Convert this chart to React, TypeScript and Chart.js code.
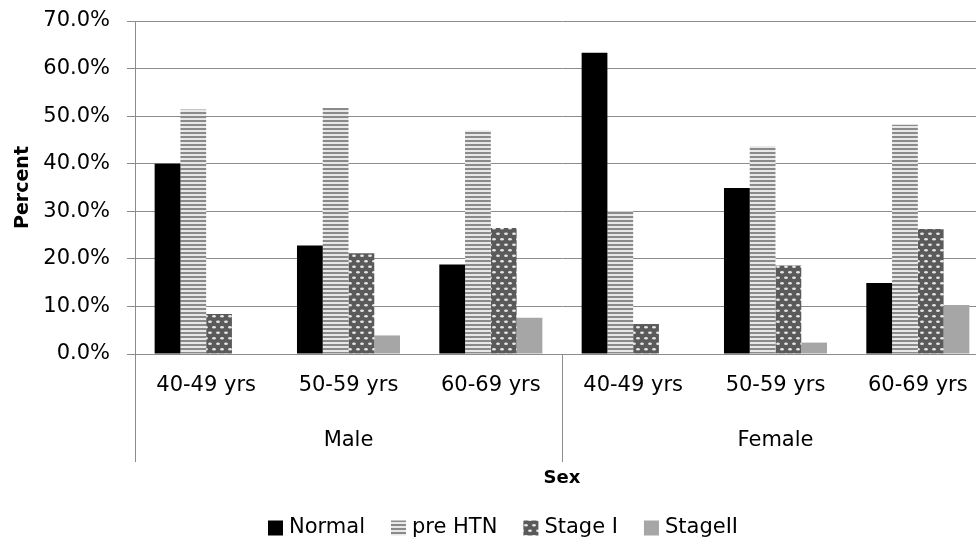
import React, { useEffect, useRef } from 'react';
import { Chart, registerables } from 'chart.js';

Chart.register(...registerables);

// ---- data ----
const groups = ['Male', 'Female'];
const categories = ['40-49 yrs', '50-59 yrs', '60-69 yrs', '40-49 yrs', '50-59 yrs', '60-69 yrs'];
const seriesNames = ['Normal', 'pre HTN', 'Stage I', 'StageII'];
const normal = [40.0, 22.8, 18.8, 63.3, 34.9, 14.9];
const preHTN = [51.4, 51.7, 47.0, 30.0, 43.7, 48.2];
const stageI = [8.4, 21.2, 26.5, 6.3, 18.6, 26.3];
const stageII = [0, 3.9, 7.6, 0, 2.4, 10.3];
const yMin = 0;
const yMax = 70;
const yStep = 10;
const xTitle = 'Sex';
const yTitle = 'Percent';

const FONT = 'DejaVu Sans';
const GRID = '#8c8c8c';

function stripePattern(): CanvasPattern | string {
  const c = document.createElement('canvas');
  c.width = 4;
  c.height = 4;
  const g = c.getContext('2d');
  if (!g) return '#aaa';
  g.fillStyle = '#e8e8e8';
  g.fillRect(0, 0, 4, 4);
  g.fillStyle = '#8a8a8a';
  g.fillRect(0, 0, 4, 2);
  return g.createPattern(c, 'repeat') || '#aaa';
}

function dotPattern(): CanvasPattern | string {
  const c = document.createElement('canvas');
  c.width = 8;
  c.height = 11;
  const g = c.getContext('2d');
  if (!g) return '#666';
  g.fillStyle = '#5a5a5a';
  g.fillRect(0, 0, 8, 11);
  g.fillStyle = '#e6e6e6';
  g.beginPath();
  g.ellipse(2, 2.75, 1.9, 1.3, 0, 0, Math.PI * 2);
  g.fill();
  g.beginPath();
  g.ellipse(6, 8.25, 1.9, 1.3, 0, 0, Math.PI * 2);
  g.fill();
  return g.createPattern(c, 'repeat') || '#666';
}

export default function App() {
  const ref = useRef<HTMLCanvasElement | null>(null);

  useEffect(() => {
    const canvas = ref.current;
    if (!canvas) return;
    const fills = ['#000000', stripePattern(), dotPattern(), '#a6a6a6'];
    const values = [normal, preHTN, stageI, stageII];

    const axisPlugin = {
      id: 'multiLevelAxis',
      afterDraw(chart: any) {
        const ctx = chart.ctx as CanvasRenderingContext2D;
        const ca = chart.chartArea;
        const xs = chart.scales.x;
        const axisBottom = 462;
        ctx.save();
        ctx.strokeStyle = GRID;
        ctx.lineWidth = 1;
        const lx = Math.round(ca.left) + 0.5;
        ctx.beginPath();
        ctx.moveTo(lx, ca.bottom);
        ctx.lineTo(lx, axisBottom);
        ctx.stroke();
        const perGroup = categories.length / groups.length;
        for (let g = 1; g < groups.length; g++) {
          const i = g * perGroup;
          const dx = Math.round((xs.getPixelForValue(i - 1) + xs.getPixelForValue(i)) / 2) + 0.5;
          ctx.beginPath();
          ctx.moveTo(dx, ca.bottom);
          ctx.lineTo(dx, axisBottom);
          ctx.stroke();
        }
        ctx.fillStyle = '#000';
        ctx.font = `21px "${FONT}"`;
        ctx.textAlign = 'center';
        ctx.textBaseline = 'middle';
        categories.forEach((c, i) => {
          ctx.fillText(c, xs.getPixelForValue(i), 386);
        });
        groups.forEach((gname, g) => {
          const a = xs.getPixelForValue(g * perGroup);
          const b = xs.getPixelForValue(g * perGroup + perGroup - 1);
          ctx.fillText(gname, (a + b) / 2, 441);
        });
        ctx.font = `bold 18px "${FONT}"`;
        ctx.fillText(xTitle, (ca.left + ca.right) / 2, 478);
        ctx.save();
        ctx.translate(23, (ca.top + ca.bottom) / 2);
        ctx.rotate(-Math.PI / 2);
        ctx.font = `bold 19px "${FONT}"`;
        ctx.fillText(yTitle, 0, 0);
        ctx.restore();
        ctx.font = `21px "${FONT}"`;
        ctx.textAlign = 'left';
        const box = 15;
        const gapText = 6;
        const gapItem = 26;
        let total = 0;
        const widths = seriesNames.map((n) => ctx.measureText(n).width);
        widths.forEach((w, i) => {
          total += box + gapText + w + (i < widths.length - 1 ? gapItem : 0);
        });
        let x = 503 - total / 2;
        const ly = 528;
        seriesNames.forEach((n, i) => {
          ctx.fillStyle = fills[i] as any;
          ctx.fillRect(x, ly - box / 2, box, box);
          ctx.fillStyle = '#000';
          ctx.fillText(n, x + box + gapText, ly);
          x += box + gapText + widths[i] + gapItem;
        });
        ctx.restore();
      },
    };

    const chart = new Chart(canvas, {
      type: 'bar',
      data: {
        labels: categories,
        datasets: seriesNames.map((name, i) => ({
          label: name,
          data: values[i],
          backgroundColor: fills[i] as any,
          borderWidth: 0,
          barPercentage: 1,
          categoryPercentage: 0.724,
        })),
      },
      options: {
        responsive: false,
        animation: false,
        devicePixelRatio: 1,
        layout: { padding: { left: 0, right: 11, top: 21, bottom: 0 } },
        plugins: {
          legend: { display: false },
          tooltip: { enabled: false },
        },
        scales: {
          x: {
            type: 'category',
            offset: true,
            grid: { display: false },
            border: { display: false },
            ticks: { display: false },
            afterFit: (s: any) => {
              s.height = 542 - 354;
              s.paddingLeft = 0;
              s.paddingRight = 0;
            },
          },
          y: {
            min: yMin,
            max: yMax,
            grid: { color: GRID, lineWidth: 1, tickLength: 8, drawTicks: true },
            border: { display: true, color: GRID, width: 1 },
            ticks: {
              stepSize: yStep,
              padding: 17,
              color: '#000',
              font: { family: FONT, size: 21 },
              callback: (v: any) => Number(v).toFixed(1) + '%',
            },
            afterFit: (s: any) => {
              s.width = 135;
              s.paddingTop = 0;
              s.paddingBottom = 0;
            },
          },
        },
      },
      plugins: [axisPlugin],
    } as any);

    return () => chart.destroy();
  }, []);

  return (
    <div
      style={{
        position: 'absolute',
        left: 0,
        top: 0,
        width: 976,
        height: 542,
        overflow: 'hidden',
        background: '#fff',
      }}
    >
      <canvas ref={ref} width={1000} height={542} style={{ display: 'block', width: 1000, height: 542 }} />
    </div>
  );
}
